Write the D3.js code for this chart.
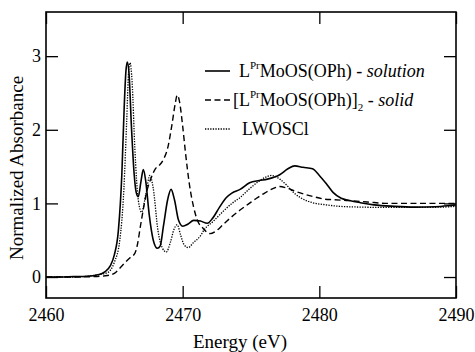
<!DOCTYPE html>
<html>
<head>
<meta charset="utf-8">
<script src="https://cdn.jsdelivr.net/npm/d3@7"></script>
<style>
  body { margin: 0; background: #fff; }
  svg text { font-family: "Liberation Serif", "Times New Roman", Times, "DejaVu Serif", serif; }
</style>
</head>
<body>
<svg width="475" height="352"></svg>
<script>
// energies (eV) and normalized absorbance
const solutionE = [2460, 2461, 2462, 2463, 2463.8, 2464.3, 2464.7, 2465, 2465.3, 2465.55, 2465.72, 2465.85, 2465.95,
  2466.08, 2466.25, 2466.45, 2466.6, 2466.75, 2466.95, 2467.12, 2467.3, 2467.55, 2467.85, 2468.15, 2468.35, 2468.6,
  2468.9, 2469.15, 2469.4, 2469.7, 2470, 2470.4, 2470.8, 2471.3, 2471.8, 2472.2, 2472.7, 2473.2, 2473.6, 2474.2,
  2474.9, 2475.6, 2476.2, 2477.1, 2477.7, 2478.2, 2478.8, 2479.5, 2480, 2480.5, 2481, 2481.6, 2482.2, 2483, 2484,
  2485.5, 2487, 2488.5, 2489.5, 2490];
const solutionA = [0, 0, 0.005, 0.01, 0.03, 0.07, 0.15, 0.3, 0.64, 1.4, 2.3, 2.8, 2.92,
  2.75, 2.05, 1.4, 1.15, 1.09, 1.3, 1.46, 1.3, 0.85, 0.5, 0.39, 0.42, 0.7,
  1.05, 1.19, 1.05, 0.77, 0.69, 0.72, 0.77, 0.76, 0.73, 0.8, 0.95, 1.08, 1.14, 1.19,
  1.28, 1.31, 1.33, 1.39, 1.47, 1.51, 1.49, 1.47, 1.38, 1.27, 1.15, 1.07, 1.04, 1.01, 0.98,
  0.96, 0.95, 0.955, 0.97, 0.98];

const solidE = [2460, 2462, 2463.5, 2464.5, 2465, 2465.4, 2465.8, 2466.2, 2466.5, 2466.7, 2466.9, 2467.2, 2467.4,
  2467.7, 2468, 2468.3, 2468.6, 2468.9, 2469.2, 2469.45, 2469.6, 2469.75, 2470, 2470.2, 2470.5, 2470.8, 2471.1,
  2471.5, 2472, 2472.4, 2473, 2473.6, 2474.2, 2474.8, 2475.4, 2476, 2476.6, 2477.1, 2477.6, 2478.3, 2479, 2479.6,
  2480.3, 2481, 2482, 2483.5, 2485, 2487, 2489, 2490];
const solidA = [0, 0, 0.005, 0.02, 0.05, 0.12, 0.2, 0.27, 0.32, 0.45, 0.68, 1.0, 1.18,
  1.35, 1.47, 1.52, 1.6, 1.75, 2.05, 2.35, 2.47, 2.4, 2.05, 1.7, 1.25, 0.95, 0.76,
  0.66, 0.59, 0.62, 0.72, 0.82, 0.91, 0.99, 1.07, 1.14, 1.2, 1.23, 1.21, 1.16, 1.12, 1.09,
  1.06, 1.05, 1.04, 1.02, 1.0, 1.0, 1.0, 1.0];

const lwosclE = [2460, 2462, 2463, 2463.8, 2464.5, 2465, 2465.4, 2465.7, 2465.9, 2466.05, 2466.15, 2466.3, 2466.5,
  2466.75, 2467, 2467.3, 2467.6, 2467.85, 2468.2, 2468.5, 2468.8, 2469.1, 2469.35, 2469.6, 2469.85, 2470.1,
  2470.4, 2470.8, 2471.3, 2471.6, 2472.2, 2472.9, 2473.6, 2474.2, 2474.9, 2475.5, 2476, 2476.5, 2477.1, 2477.6,
  2478.1, 2478.6, 2479.5, 2480.5, 2481.5, 2483, 2485, 2487, 2489, 2490];
const lwosclA = [0, 0, 0.01, 0.03, 0.06, 0.2, 0.5, 1.2, 2.1, 2.8, 2.91, 2.65, 1.75,
  1.05, 0.88, 1.12, 1.38, 1.2, 0.62, 0.4, 0.34, 0.47, 0.64, 0.71, 0.57, 0.44,
  0.4, 0.47, 0.56, 0.65, 0.75, 0.88, 1.0, 1.08, 1.2, 1.29, 1.35, 1.38, 1.33, 1.25,
  1.15, 1.08, 1.01, 0.98, 0.96, 0.95, 0.945, 0.945, 0.95, 0.96];

const xTicks = [2460, 2470, 2480, 2490];
const yTicks = [0, 1, 2, 3];

const serif = "'Liberation Serif', 'Times New Roman', Times, 'DejaVu Serif', serif";

const svg = d3.select("svg");
svg.append("rect").attr("width", 475).attr("height", 352).attr("fill", "#fff");

const mLeft = 46, mRight = 456, mTop = 12, mBottom = 298;
const x = d3.scaleLinear().domain([2460, 2490]).range([mLeft, mRight]);
const y = d3.scaleLinear().domain([-0.285, 3.6]).range([mBottom, mTop]);

const toPts = (es, as) => es.map((e, i) => [e, as[i]]);
const line = d3.line()
  .x(d => x(d[0]))
  .y(d => y(d[1]))
  .curve(d3.curveMonotoneX);

const series = [
  { pts: toPts(solutionE, solutionA), dash: null, w: 1.6 },
  { pts: toPts(solidE, solidA), dash: "6,3.5", w: 1.4 },
  { pts: toPts(lwosclE, lwosclA), dash: "1.3,1.3", w: 1.3 }
];

svg.append("clipPath").attr("id", "clip")
  .append("rect").attr("x", mLeft).attr("y", mTop).attr("width", mRight - mLeft).attr("height", mBottom - mTop);

svg.append("g").attr("clip-path", "url(#clip)")
  .selectAll("path")
  .data(series)
  .enter().append("path")
  .attr("d", d => line(d.pts))
  .attr("fill", "none")
  .attr("stroke", "#000")
  .attr("stroke-width", d => d.w)
  .attr("stroke-dasharray", d => d.dash);

// axes: ticks point inward on all four sides
const tl = 12;
const xAxisB = d3.axisBottom(x).tickValues(xTicks).tickSize(-tl).tickSizeOuter(0).tickPadding(10).tickFormat(d3.format("d"));
const xAxisT = d3.axisTop(x).tickValues(xTicks).tickSize(-tl).tickSizeOuter(0).tickFormat("");
const yAxisL = d3.axisLeft(y).tickValues(yTicks).tickSize(-tl).tickSizeOuter(0).tickPadding(5).tickFormat(d3.format("d"));
const yAxisR = d3.axisRight(y).tickValues(yTicks).tickSize(-tl).tickSizeOuter(0).tickFormat("");

function styleAxis(g) {
  g.attr("font-family", serif).attr("font-size", 18);
  g.select(".domain").remove();
  g.selectAll("line").attr("stroke", "#000").attr("stroke-width", 1.3);
  g.selectAll("text").attr("fill", "#000");
}

svg.append("g").attr("transform", `translate(0,${mBottom})`).call(xAxisB).call(styleAxis);
svg.append("g").attr("transform", `translate(0,${mTop})`).call(xAxisT).call(styleAxis);
svg.append("g").attr("transform", `translate(${mLeft},0)`).call(yAxisL).call(styleAxis);
svg.append("g").attr("transform", `translate(${mRight},0)`).call(yAxisR).call(styleAxis);

svg.append("rect")
  .attr("x", mLeft).attr("y", mTop).attr("width", mRight - mLeft).attr("height", mBottom - mTop)
  .attr("fill", "none").attr("stroke", "#000").attr("stroke-width", 1.6);

svg.append("text")
  .attr("x", 240).attr("y", 348)
  .attr("text-anchor", "middle")
  .attr("font-family", serif).attr("font-size", 19)
  .text("Energy (eV)");

svg.append("text")
  .attr("transform", "translate(23,168) rotate(-90)")
  .attr("text-anchor", "middle")
  .attr("font-family", serif).attr("font-size", 19)
  .text("Normalized Absorbance");

// legend
const leg = svg.append("g").attr("font-family", serif).attr("font-size", 18);
const rows = [71, 100, 129];
series.forEach((s, i) => {
  leg.append("line")
    .attr("x1", 205).attr("x2", 230)
    .attr("y1", rows[i]).attr("y2", rows[i])
    .attr("stroke", "#000")
    .attr("stroke-width", s.w)
    .attr("stroke-dasharray", s.dash);
});

const t1 = leg.append("text").attr("x", 239).attr("y", rows[0] + 6);
t1.append("tspan").text("L");
t1.append("tspan").attr("dy", -8).attr("font-size", 11).text("Pr");
t1.append("tspan").attr("dy", 8).text("MoOS(OPh) - ");
t1.append("tspan").attr("font-style", "italic").text("solution");

const t2 = leg.append("text").attr("x", 233).attr("y", rows[1] + 6);
t2.append("tspan").text("[L");
t2.append("tspan").attr("dy", -8).attr("font-size", 11).text("Pr");
t2.append("tspan").attr("dy", 8).text("MoOS(OPh)]");
t2.append("tspan").attr("dy", 5).attr("font-size", 11).text("2");
t2.append("tspan").attr("dy", -5).text(" - ");
t2.append("tspan").attr("font-style", "italic").text("solid");

leg.append("text").attr("x", 242).attr("y", rows[2] + 6).text("LWOSCl");
</script>
</body>
</html>
